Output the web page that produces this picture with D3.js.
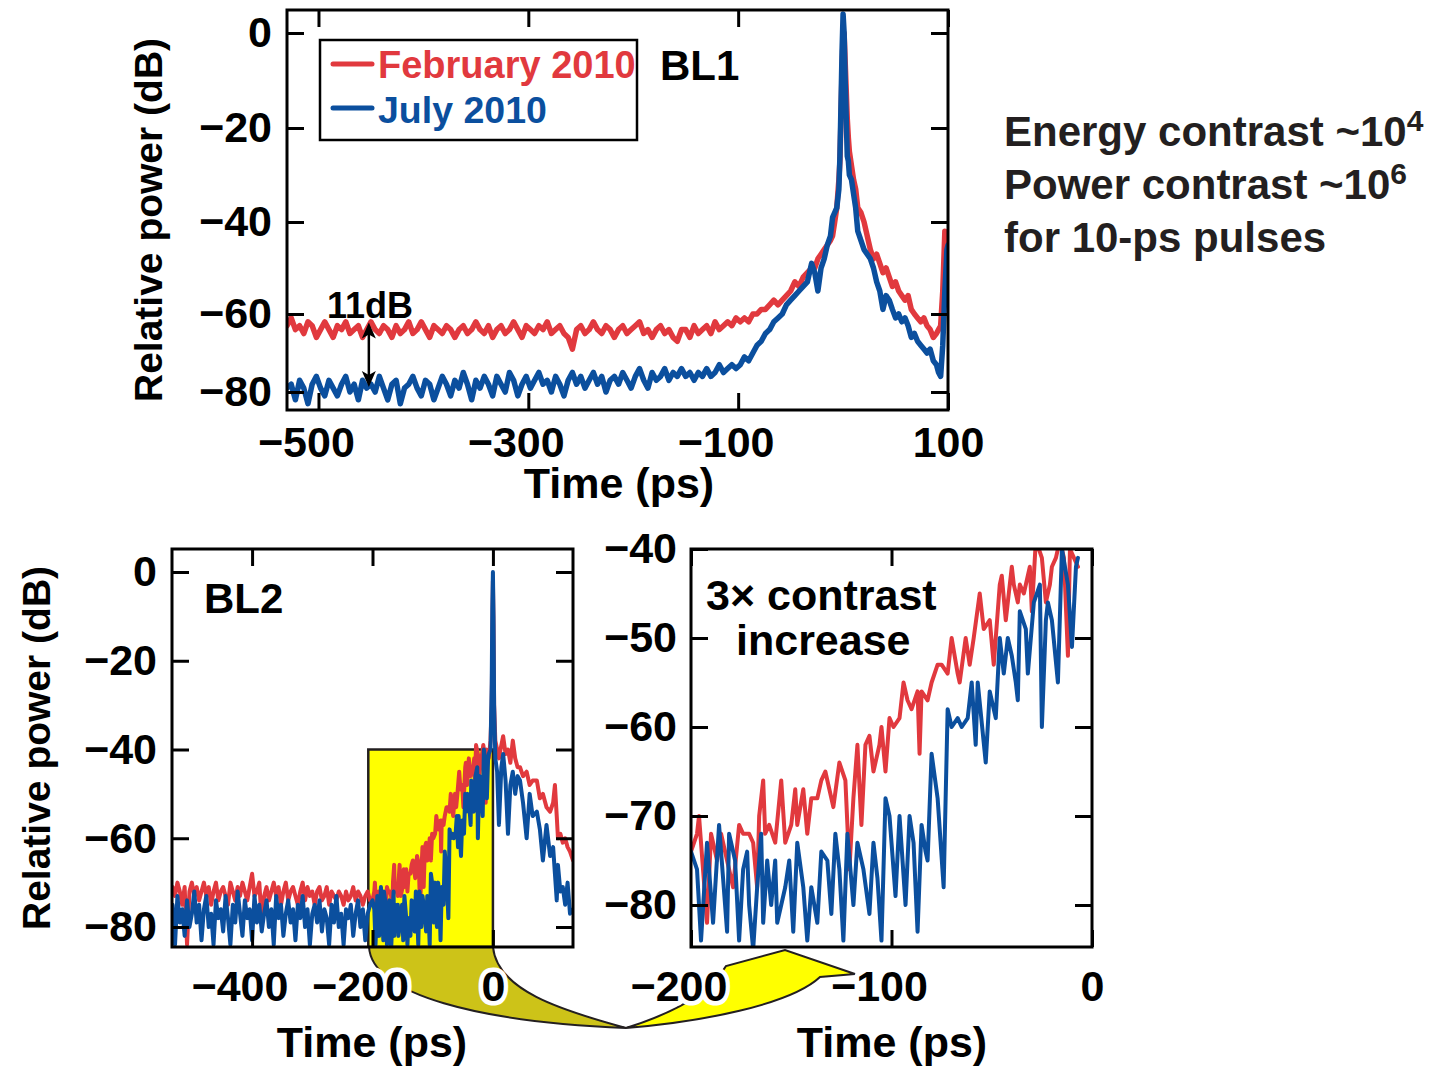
<!DOCTYPE html>
<html><head><meta charset="utf-8">
<script src="https://cdn.jsdelivr.net/npm/d3@7"></script>
<style>
body{margin:0;background:#fff}
svg{display:block}
text{font-family:'Liberation Sans',Arial,Helvetica,sans-serif;font-weight:bold}
</style>
</head><body>
<svg id="c" width="1441" height="1066"></svg>
<script>
// ---------------- DATA ----------------
const seriesNames = ["February 2010", "July 2010"];

// Top panel (BL1): floor region, regular 4-ps sampling grid
const topFloorT = d3.range(-530, -150, 4);
const topRedFloor = [
-63,-61,-64,-63,-65,-62,-63,-66,-64,-62,
-64,-66,-63,-64,-62,-65,-64,-63,-66,-64,
-62,-64,-65,-63,-64,-66,-63,-65,-64,-62,
-65,-64,-62,-64,-66,-63,-64,-65,-63,-64,
-66,-64,-63,-65,-64,-62,-64,-65,-63,-66,
-64,-63,-65,-64,-62,-64,-66,-63,-64,-65,
-63,-64,-62,-65,-64,-63,-65,-66,-69,-64,
-63,-65,-64,-62,-64,-65,-63,-64,-66,-64,
-63,-65,-64,-63,-62,-65,-64,-66,-64,-63,
-65,-64,-66,-67,-64];
const topBlueFloor = [
-79,-78,-82,-77,-79,-83,-78,-76,-79,-81,
-77,-79,-81,-78,-76,-80,-78,-82,-77,-79,
-78,-80,-76,-79,-82,-78,-77,-83,-79,-78,
-76,-79,-81,-77,-78,-82,-79,-76,-78,-81,
-77,-79,-75,-78,-82,-77,-79,-76,-78,-81,
-76,-78,-80,-75,-77,-81,-78,-76,-79,-77,
-75,-78,-77,-80,-76,-78,-81,-77,-75,-78,
-76,-79,-77,-75,-78,-76,-80,-77,-76,-78,
-75,-77,-79,-76,-74,-77,-79,-75,-77,-76,
-74,-77,-75,-76,-74];
// Top panel: pulse region
const topPeakT = [-150,-146,-142,-138,-134,-130,-126,-122,-118,-114,-110,-106,-102,
-98,-94,-90,-86,-82,-78,-74,-70,-66,-62,-58,-54,
-50,-46,-42,-38,-34,-30,
-27,-24,-21,-18,-15,-12,
-10,-8,-6,-4,
-3,-2,-1,0,1,2,3,4,5,6,
8,10,12,14,
17,20,23,26,29,32,35,38,41,44,47,50,53,56,59,62,65,68,71,74,77,80,83,86,89,
91,93,95,97,99,100];
const topRedPeak = [-64,-66,-63,-65,-64,-63,-65,-62,-64,-63,-62,-63,-61,
-62,-61,-62,-60,-60,-59,-59,-58,-57,-58,-57,-56,
-55,-53,-54,-52,-51,-50,
-50,-48,-47,-46,-45,-44,
-43,-40,-37,-31,
-27,-18,-8,-1,0,-6,-12,-18,-22,-25,
-28,-31,-33,-37,
-38,-40,-43,-46,-48,-47,-49,-51,-50,-52,-54,-53,-55,-56,-57,-56,-59,-60,-61,-62,-61,-63,-64,-66,-65,
-64,-63,-55,-42,-44,-45];
const topBluePeak = [-76,-75,-77,-75,-76,-74,-76,-75,-73,-75,-74,-73,-74,
-73,-71,-72,-70,-68,-67,-65,-64,-62,-61,-60,-58,
-57,-56,-55,-54,-53,-49,
-51,-55,-50,-48,-45,-43,
-39,-38,-37,-33,
-26,-15,-4,4,0,-10,-18,-26,-27,-30,
-31,-34,-37,-42,
-44,-46,-47,-48,-50,-53,-55,-59,-56,-57,-59,-61,-60,-62,-61,-63,-66,-65,-67,-68,-69,-70,-69,-72,-73,
-75,-76,-68,-55,-46,-45];

// Bottom panels (BL2): floor before the zoom window, 4-ps grid
const blFloorT = d3.range(-532, -200, 4);
const blRedFloor = [
-71,-73,-70,-72,-75,-71,-84,-72,-70,-73,
-71,-74,-72,-70,-73,-71,-75,-72,-70,-74,
-72,-71,-73,-75,-70,-72,-74,-71,-73,-70,
-72,-74,-71,-68,-73,-72,-70,-79,-73,-71,
-74,-72,-70,-73,-71,-75,-72,-70,-74,-72,
-71,-73,-75,-72,-70,-74,-71,-73,-72,-75,
-72,-71,-74,-73,-71,-75,-72,-73,-74,-72,
-73,-75,-72,-74,-73,-71,-74,-72,-73,-75,
-73,-72,-74];
const blBlueFloor = [
-75,-84,-73,-79,-76,-82,-74,-80,-77,-72,
-79,-75,-83,-76,-73,-80,-77,-84,-74,-78,
-76,-81,-73,-78,-84,-75,-79,-72,-77,-82,
-74,-78,-76,-83,-73,-79,-75,-81,-77,-74,
-80,-76,-84,-73,-78,-75,-82,-77,-74,-79,
-76,-83,-75,-78,-73,-80,-76,-84,-77,-75,
-79,-74,-81,-76,-78,-84,-75,-79,-73,-80,
-77,-84,-76,-78,-75,-82,-77,-74,-80,-76,
-83,-77,-75];
// Zoom window (-200 .. 0 ps), shown in the right panel
const zoomRedT = [-200,-197,-196,-194,-192,-190,-187,-185,-182,-179,
-176,-174,-171,-169,-167,-166,-164,-163,-161,-158,
-155,-153,-150,-148,-147,-144,-142,-140,-137,-135,
-133,-131,-129,-126,-123,-121,-119,-117,-115,-113,
-111,-109,-106,-105,-103,-101,-99,-96,-94,-92,
-90,-87,-86,-85,-82,-80,-77,-75,-72,-70,
-67,-66,-63,-61,-59,-56,-54,-51,-49,-46,
-45,-43,-40,-39,-37,-36,-34,-31,-30,-28,
-25,-23,-21,-20,-18,-16,-14,-12,-11,-9,-7];
const zoomRedV = [-74,-72,-70,-76,-82,-72,-75,-72,-75,-78,
-71,-72,-72,-73,-78,-70,-66,-72,-71,-73,
-66,-73,-71,-67,-71,-67,-72,-68,-68,-66,
-65,-67,-69,-64,-66,-76,-68,-62,-71,-62,
-61,-65,-62,-60,-65,-59,-60,-59,-55,-57,
-58,-56,-63,-56,-57,-55,-53,-53,-54,-50,
-54,-55,-50,-53,-50,-45,-49,-48,-53,-44,
-43,-48,-42,-44,-46,-44,-45,-42,-47,-39,
-41,-46,-44,-42,-41,-39,-41,-52,-40,-41,-42];
const zoomBlueT = [-200,-197,-195,-192,-189,-186,-184,-182,-181,-178,
-176,-174,-172,-171,-169,-167,-165,-164,-162,-160,
-158,-157,-155,-153,-151,-149,-147,-144,-142,-140,
-137,-135,-132,-130,-128,-126,-124,-122,-119,-117,
-114,-111,-109,-107,-105,-103,-101,-98,-96,-93,
-91,-89,-87,-85,-83,-82,-80,-77,-74,-72,
-70,-67,-65,-62,-60,-58,-57,-53,-51,-48,
-46,-44,-42,-40,-38,-37,-36,-33,-32,-29,
-26,-25,-23,-22,-20,-17,-15,-12,-10,-8,-7];
const zoomBlueV = [-74,-76,-84,-73,-82,-71,-77,-83,-72,-75,
-84,-76,-74,-80,-85,-78,-72,-82,-75,-80,
-75,-82,-80,-78,-75,-83,-73,-78,-84,-78,
-82,-74,-75,-81,-72,-76,-84,-72,-80,-73,
-76,-81,-73,-77,-84,-68,-70,-79,-70,-80,
-70,-73,-83,-71,-74,-75,-63,-68,-78,-58,
-60,-59,-60,-59,-55,-62,-55,-64,-56,-59,
-50,-54,-50,-52,-55,-57,-47,-49,-54,-46,
-44,-60,-48,-46,-48,-55,-40,-44,-51,-42,-41];
// Pulse and tail after the zoom window
const blTailT = [-4,-2,-1,0,1,2,4,7,10,14,17,21,25,29,33,37,41,45,50,56,61,66,73,78,83,89,95,100,103,106,108,112,116,120,124,128,133];
const blRedTail = [-38,-30,-15,-2,-12,-30,-38,-40,-42,-39,-37,-41,-40,-43,-38,-42,-44,-44,-46,-45,-48,-47,-47,-51,-50,-53,-54,-52,-48,-55,-60,-59,-61,-60,-62,-63,-65];
const blBlueTail = [-40,-25,-8,0,-10,-30,-42,-45,-57,-44,-41,-47,-59,-48,-45,-50,-46,-47,-52,-60,-50,-55,-54,-58,-65,-57,-64,-62,-68,-74,-66,-72,-71,-75,-70,-77,-76];

// Tick values
const topXTicks = [-500, -300, -100, 100];
const topYTicks = [0, -20, -40, -60, -80];
const blXTicks = [-400, -200, 0];
const blYTicks = [0, -20, -40, -60, -80];
const brXTicks = [-200, -100, 0];
const brYTicks = [-40, -50, -60, -70, -80];

// ---------------- DRAWING ----------------
const RED = "#e1393e", BLUE = "#0b4f9e", INK = "#000";
const TICKFONT = 43;
const svg = d3.select("#c");
svg.append("rect").attr("width",1441).attr("height",1066).attr("fill","#fff");
const zip = (t, v) => t.map((d, i) => [d, v[i]]);
const fmt = v => v < 0 ? "\u2212" + Math.abs(v) : String(v);

// measure minus width for centring digits on ticks
const tmp = svg.append("text").attr("font-size", TICKFONT).text("\u2212");
const minusW = tmp.node().getComputedTextLength();
tmp.remove();

function panel(cfg) {
  const {id, x0, x1, y0, y1, xs, ys, xTicks, yTicks, ypad, xpad, halo} = cfg;
  const g = svg.append("g");
  g.append("clipPath").attr("id", "clip" + id).append("rect")
    .attr("x", x0).attr("y", y0).attr("width", x1 - x0).attr("height", y1 - y0);
  const plot = g.append("g").attr("clip-path", `url(#clip${id})`);
  const axes = g.append("g");
  const style = sel => {
    sel.select(".domain").remove();
    sel.selectAll(".tick line").attr("stroke", INK).attr("stroke-width", 3);
    sel.selectAll(".tick text").attr("font-size", TICKFONT).attr("fill", INK)
      .attr("font-family", "'Liberation Sans',Arial,Helvetica,sans-serif").attr("font-weight", "bold");
  };
  axes.append("g").attr("transform", `translate(${x0},0)`)
    .call(d3.axisLeft(ys).tickValues(yTicks).tickSize(-17).tickPadding(ypad).tickFormat(fmt)).call(style);
  axes.append("g").attr("transform", `translate(${x1},0)`)
    .call(d3.axisRight(ys).tickValues(yTicks).tickSize(-17).tickFormat("")).call(style);
  const bx = axes.append("g").attr("transform", `translate(0,${y1})`)
    .call(d3.axisBottom(xs).tickValues(xTicks).tickSize(-17).tickPadding(xpad).tickFormat(fmt)).call(style);
  bx.selectAll(".tick text").attr("dx", d => d < 0 ? -minusW / 2 : 0);
  if (halo) bx.selectAll(".tick text").attr("stroke", "#fff").attr("stroke-width", 9)
      .attr("stroke-linejoin", "round").attr("paint-order", "stroke");
  axes.append("g").attr("transform", `translate(0,${y0})`)
    .call(d3.axisTop(xs).tickValues(xTicks).tickSize(-17).tickFormat("")).call(style);
  axes.append("rect").attr("x", x0).attr("y", y0).attr("width", x1 - x0).attr("height", y1 - y0)
    .attr("fill", "none").attr("stroke", INK).attr("stroke-width", 3);
  return {g, plot, axes, bx};
}

function trace(plot, xs, ys, data, color, w) {
  plot.append("path").datum(data)
    .attr("d", d3.line().x(d => xs(d[0])).y(d => ys(d[1])))
    .attr("fill", "none").attr("stroke", color).attr("stroke-width", w)
    .attr("stroke-linejoin", "round").attr("stroke-linecap", "round");
}

// ---- Top panel (BL1)
const xTop = d3.scaleLinear().domain([-530, 100]).range([287, 948]);
const yTop = d3.scaleLinear().domain([0, -20, -40, -60, -80]).range([33, 128, 222, 314, 392]);
const topP = panel({id: "t", x0: 287, x1: 948, y0: 10, y1: 410, xs: xTop, ys: yTop,
  xTicks: topXTicks, yTicks: topYTicks, ypad: 15, xpad: 16, halo: false});
trace(topP.plot, xTop, yTop, zip(topFloorT, topRedFloor).concat(zip(topPeakT, topRedPeak)), RED, 5.5);
trace(topP.plot, xTop, yTop, zip(topFloorT, topBlueFloor).concat(zip(topPeakT, topBluePeak)), BLUE, 5.5);
topP.axes.raise();

svg.append("text").attr("x", 619).attr("y", 498).attr("text-anchor", "middle").attr("font-size", 43).text("Time (ps)");
svg.append("text").attr("transform", "translate(162,220) rotate(-90)").attr("text-anchor", "middle")
  .attr("font-size", 39).text("Relative power (dB)");

// legend
const lg = svg.append("g");
lg.append("rect").attr("x", 320).attr("y", 40).attr("width", 317).attr("height", 100)
  .attr("fill", "#fff").attr("stroke", INK).attr("stroke-width", 2.5);
[[RED, 64, 78, 38], [BLUE, 108, 123, 37.5]].forEach(([c, ly, ty, fs], i) => {
  lg.append("line").attr("x1", 333).attr("x2", 372).attr("y1", ly).attr("y2", ly)
    .attr("stroke", c).attr("stroke-width", 5).attr("stroke-linecap", "round");
  lg.append("text").attr("x", 378).attr("y", ty).attr("font-size", fs).attr("fill", c).text(seriesNames[i]);
});
svg.append("text").attr("x", 660).attr("y", 80).attr("font-size", 42).text("BL1");

// 11 dB double arrow
const ax = xTop(-452), ayTop = yTop(-62.2), ayBot = yTop(-78.7);
svg.append("line").attr("x1", ax).attr("x2", ax).attr("y1", ayTop + 10).attr("y2", ayBot - 10)
  .attr("stroke", INK).attr("stroke-width", 2.5);
svg.append("path").attr("fill", INK)
  .attr("d", `M${ax},${ayTop} L${ax - 7},${ayTop + 16} L${ax},${ayTop + 12} L${ax + 7},${ayTop + 16} Z`);
svg.append("path").attr("fill", INK)
  .attr("d", `M${ax},${ayBot} L${ax - 7},${ayBot - 16} L${ax},${ayBot - 12} L${ax + 7},${ayBot - 16} Z`);
svg.append("text").attr("x", 327).attr("y", 318).attr("font-size", 36).text("11dB");

// right-hand notes
const notes = svg.append("g").attr("fill", "#231f20").attr("font-size", 42);
const n1 = notes.append("text").attr("x", 1004).attr("y", 146).text("Energy contrast ~10");
n1.append("tspan").attr("font-size", 30).attr("dy", -15).text("4");
const n2 = notes.append("text").attr("x", 1004).attr("y", 199).text("Power contrast ~10");
n2.append("tspan").attr("font-size", 30).attr("dy", -15).text("6");
notes.append("text").attr("x", 1004).attr("y", 252).text("for 10-ps pulses");

// ---- Zoom arrow (drawn behind the bottom panels' labels)
const arrow = svg.append("g");

// ---- Bottom-left panel (BL2)
const xBL = d3.scaleLinear().domain([-533, 133]).range([172, 573]);
const yBL = d3.scaleLinear().domain([0, -80]).range([572, 927]);
const bl = panel({id: "bl", x0: 172, x1: 573, y0: 549, y1: 947, xs: xBL, ys: yBL,
  xTicks: blXTicks, yTicks: blYTicks, ypad: 15, xpad: 23, halo: true});
bl.plot.append("rect").attr("x", xBL(-207)).attr("y", yBL(-40))
  .attr("width", xBL(0) - xBL(-207)).attr("height", 947 - yBL(-40))
  .attr("fill", "#ffff00").attr("stroke", "#231f20").attr("stroke-width", 2.5);
trace(bl.plot, xBL, yBL, zip(blFloorT, blRedFloor).concat(zip(zoomRedT, zoomRedV), zip(blTailT, blRedTail)), RED, 4);
trace(bl.plot, xBL, yBL, zip(blFloorT, blBlueFloor).concat(zip(zoomBlueT, zoomBlueV), zip(blTailT, blBlueTail)), BLUE, 4);
bl.axes.raise();
svg.append("text").attr("x", 204).attr("y", 613).attr("font-size", 42).text("BL2");
svg.append("text").attr("x", 372).attr("y", 1057).attr("text-anchor", "middle").attr("font-size", 43).text("Time (ps)");
svg.append("text").attr("transform", "translate(50,748) rotate(-90)").attr("text-anchor", "middle")
  .attr("font-size", 39).text("Relative power (dB)");

// ---- Bottom-right panel (zoom)
const xBR = d3.scaleLinear().domain([-200, 0]).range([691, 1092]);
const yBR = d3.scaleLinear().domain([-40, -80]).range([549, 905]);
const br = panel({id: "br", x0: 691, x1: 1092, y0: 549, y1: 947, xs: xBR, ys: yBR,
  xTicks: brXTicks, yTicks: brYTicks, ypad: 14, xpad: 23, halo: true});
trace(br.plot, xBR, yBR, zip(zoomRedT, zoomRedV), RED, 4);
trace(br.plot, xBR, yBR, zip(zoomBlueT, zoomBlueV), BLUE, 4);
br.axes.raise();
svg.append("text").attr("x", 706).attr("y", 610).attr("font-size", 43).text("3\u00d7 contrast");
svg.append("text").attr("x", 736).attr("y", 655).attr("font-size", 43).text("increase");
svg.append("text").attr("x", 892).attr("y", 1057).attr("text-anchor", "middle").attr("font-size", 43).text("Time (ps)");

// arrow shapes: ribbon from the zoom box to the zoomed panel
arrow.append("path")
  .attr("d", "M369,947 C372,995 480,1022 626,1028 C560,1010 497,990 493,947 Z")
  .attr("fill", "#cdc318").attr("stroke", "#231f20").attr("stroke-width", 2);
arrow.append("path")
  .attr("d", "M626,1028 C700,1022 790,1005 820,977 L855,974 L785,950 L726,966 C715,985 690,1008 626,1028 Z")
  .attr("fill", "#ffff00").attr("stroke", "#231f20").attr("stroke-width", 2);
// keep the panels (with haloed tick labels) above the arrow
bl.g.raise(); br.g.raise();
</script>
</body></html>
